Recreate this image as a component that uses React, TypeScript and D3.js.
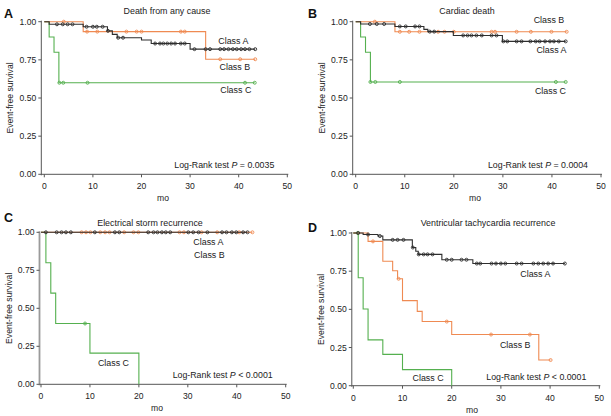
import React from "react";
import * as d3 from "d3";

// ---------- shared ticks ----------
const yTicks = [0, 0.25, 0.5, 0.75, 1];
const xTicks = [0, 10, 20, 30, 40, 50];

// ---------- Panel A: Death from any cause ----------
const aTitle = "Death from any cause";
const aPValue = "= 0.0035";
const aClassADrops: [number, number][] = [[1, 0.983], [8, 0.967], [13, 0.94], [14, 0.917], [15, 0.895], [20, 0.88], [22, 0.857], [30, 0.82]];
const aClassACensor = [2.6, 3.8, 4.8, 5.8, 8.7, 10, 10.8, 12, 13.1, 15.2, 16.2, 22.8, 23.8, 24.5, 25.3, 26.1, 26.9, 28.1, 28.9, 30.9, 33.2, 34.1, 36.2, 37, 37.9, 38.8, 39.6, 40.5, 41.3, 42.2, 43.4];
const aClassBDrops: [number, number][] = [[8, 0.935], [33.2, 0.754]];
const aClassBCensor = [4, 8.8, 10.9, 16.9, 19, 20, 28.1, 28.9, 36.2, 40.3, 43.4];
const aClassCDrops: [number, number][] = [[1, 0.9], [2, 0.8], [3, 0.6]];
const aClassCCensor = [3.1, 3.9, 8.9, 41.3, 43.3];

// ---------- Panel B: Cardiac death ----------
const bTitle = "Cardiac death";
const bPValue = "= 0.0004";
const bClassADrops: [number, number][] = [[1, 0.985], [8, 0.969], [13.9, 0.95], [14.7, 0.935], [19.9, 0.91], [29.9, 0.871]];
const bClassACensor = [2.9, 4.3, 5.8, 9, 10.2, 12.1, 13, 15.1, 16, 21.9, 22.8, 23.6, 24.6, 25.7, 27.7, 28.7, 30.1, 30.9, 32.8, 33.8, 35.6, 36.7, 37.5, 38.6, 39.6, 40.4, 41.4, 42.8];
const bClassBDrops: [number, number][] = [[8, 0.934]];
const bClassBCensor = [3.9, 9, 10.9, 13, 16.8, 18.1, 20, 27.7, 28.4, 32.8, 35.7, 39.9, 43];
const bClassCDrops: [number, number][] = [[1, 0.9], [2, 0.8], [3, 0.605]];
const bClassCCensor = [3, 4, 9, 40.8, 42.8];

// ---------- Panel C: Electrical storm recurrence ----------
const cTitle = "Electrical storm recurrence";
const cPValue = "< 0.0001";
const cClassADrops: [number, number][] = [];
const cClassACensor = [1, 3.2, 4.2, 5.1, 6.1, 11, 15.1, 16, 21.9, 23, 23.8, 24.7, 25.5, 26.4, 30.1, 31.1, 32.2, 34, 37, 37.9, 39, 39.9, 41.3, 42.2];
const cClassBDrops: [number, number][] = [];
const cClassBCensor = [8.3, 9.2, 10.1, 12.1, 13.1, 14, 17, 18.9, 19.9, 28.3, 29.2, 32.8, 36, 40.5, 43.2];
const cClassCDrops: [number, number][] = [[1, 0.8], [2, 0.6], [3, 0.4], [10, 0.205], [20, 0]];
const cClassCCensor = [9];

// ---------- Panel D: Ventricular tachycardia recurrence ----------
const dTitle = "Ventricular tachycardia recurrence";
const dPValue = "< 0.0001";
const dClassADrops: [number, number][] = [[2, 0.99], [5, 0.98], [6, 0.955], [12, 0.905], [12.7, 0.88], [13.2, 0.86], [18, 0.825], [24.3, 0.80]];
const dClassACensor = [1, 3, 5.4, 8, 9, 10.2, 12.1, 13.3, 14.3, 15.1, 16.1, 19, 20, 22, 23, 25.1, 25.8, 28.1, 29, 30, 30.9, 33.2, 34.2, 36.6, 37.6, 38.6, 39.6, 40.6, 43];
const dClassBDrops: [number, number][] = [[3, 0.945], [6, 0.815], [8, 0.753], [9, 0.70], [10, 0.557], [13, 0.487], [14, 0.42], [20, 0.335], [37.7, 0.168]];
const dClassBCensor = [4, 9.2, 19, 28, 35.9, 40.1];
const dClassCDrops: [number, number][] = [[1, 0.707], [2, 0.502], [3, 0.3], [6, 0.205], [10, 0.105], [20, 0]];
const dClassCCensor = [0.9];

const classNames = ["Class A", "Class B", "Class C"];
const COLORS = ["#2e2e2e", "#ef8a52", "#55b04f"];
const FONT = "'Liberation Sans', Arial, sans-serif";

type Series = { drops: [number, number][]; censor: number[] };

function survAt(drops: [number, number][], t: number) {
  let v = 1;
  for (const [dt, dv] of drops) if (dt <= t) v = dv;
  return v;
}

interface PanelProps {
  letter: string;
  title: string;
  pValue: string;
  series: Series[];
  box: { x0: number; x1: number; yT: number; yB: number; axisOff: number };
  labels: [number, number][];
  letterPos: [number, number];
  titlePos: [number, number];
  moX: number;
  yAxisColor?: string;
  yAxisWidth?: number;
}

function Panel(p: PanelProps) {
  const x = d3.scaleLinear().domain([0, 50]).range([p.box.x0, p.box.x1]);
  const y = d3.scaleLinear().domain([0, 1]).range([p.box.yB, p.box.yT]);
  const line = d3
    .line<[number, number]>()
    .x((d) => x(d[0]))
    .y((d) => y(d[1]))
    .curve(d3.curveStepAfter);
  const axX = p.box.x0 - p.box.axisOff;
  const midY = (p.box.yT + p.box.yB) / 2;
  const order = [2, 1, 0];
  return (
    <g fontFamily={FONT} fill="#222">
      <text x={p.letterPos[0]} y={p.letterPos[1]} fontSize={12.5} fontWeight="bold" fill="#111">
        {p.letter}
      </text>
      <text x={p.titlePos[0]} y={p.titlePos[1]} fontSize={8.9} textAnchor="middle">
        {p.title}
      </text>
      {/* axes */}
      <line x1={axX} x2={axX} y1={y(1) - 1} y2={y(0) + 1} stroke={p.yAxisColor || "#555"} strokeWidth={p.yAxisWidth || 1} />
      <line x1={axX} x2={x(50) + 1} y1={y(0)} y2={y(0)} stroke="#555" strokeWidth={1} />
      {yTicks.map((t) => (
        <g key={"y" + t}>
          <line x1={axX - 3} x2={axX} y1={y(t)} y2={y(t)} stroke="#555" />
          <text x={axX - 5} y={y(t) + 3} fontSize={8.6} textAnchor="end">
            {d3.format(".2f")(t)}
          </text>
        </g>
      ))}
      {xTicks.map((t) => (
        <g key={"x" + t}>
          <line x1={x(t)} x2={x(t)} y1={y(0)} y2={y(0) + 3} stroke="#555" />
          <text x={x(t)} y={y(0) + 15} fontSize={8.6} textAnchor="middle">
            {t}
          </text>
        </g>
      ))}
      <text
        transform={`translate(${axX - 28},${midY}) rotate(-90)`}
        fontSize={8.6}
        textAnchor="middle"
      >
        Event-free survival
      </text>
      <text x={p.moX} y={y(0) + 27} fontSize={8.6} textAnchor="middle">
        mo
      </text>
      {/* curves */}
      {order.map((i) => {
        const s = p.series[i];
        const last = s.drops.length ? s.drops[s.drops.length - 1] : [0, 1];
        const end = Math.max(last[0], ...s.censor);
        const pts: [number, number][] = [[0, 1], ...s.drops, [end, survAt(s.drops, end)]];
        return (
          <g key={i}>
            <path d={line(pts) || ""} fill="none" stroke={COLORS[i]} strokeWidth={1.1} />
            {s.censor.map((c, j) => (
              <circle key={j} cx={x(c)} cy={y(survAt(s.drops, c))} r={1.5} fill="none" stroke={COLORS[i]} strokeWidth={0.9} />
            ))}
          </g>
        );
      })}
      {p.labels.map((l, i) => (
        <text key={i} x={x(l[0])} y={y(l[1])} fontSize={8.9} textAnchor="middle">
          {classNames[i]}
        </text>
      ))}
      <text x={x(50) - 13} y={y(0) - 6} fontSize={8.8} textAnchor="end">
        Log-Rank test <tspan fontStyle="italic">P</tspan> {p.pValue}
      </text>
    </g>
  );
}

export default function App() {
  return (
    <svg
      width={611}
      height={416}
      style={{ position: "absolute", left: 0, top: 0, background: "#fff" }}
    >
      <rect width={611} height={416} fill="#fff" />
      <Panel
        letter="A"
        title={aTitle}
        pValue={aPValue}
        series={[
          { drops: aClassADrops, censor: aClassACensor },
          { drops: aClassBDrops, censor: aClassBCensor },
          { drops: aClassCDrops, censor: aClassCCensor },
        ]}
        box={{ x0: 44.3, x1: 287.3, yT: 21.7, yB: 174.3, axisOff: 3 }}
        labels={[[38.9, 0.856], [39.2, 0.681], [39.4, 0.531]]}
        letterPos={[4, 18]}
        titlePos={[167, 14]}
        moX={163}
      />
      <Panel
        letter="B"
        title={bTitle}
        pValue={bPValue}
        series={[
          { drops: bClassADrops, censor: bClassACensor },
          { drops: bClassBDrops, censor: bClassBCensor },
          { drops: bClassCDrops, censor: bClassCCensor },
        ]}
        box={{ x0: 355.7, x1: 601, yT: 21.7, yB: 174.3, axisOff: 3 }}
        labels={[[39.9, 0.797], [39.4, 0.99], [39.7, 0.524]]}
        letterPos={[308, 18]}
        titlePos={[467, 14]}
        moX={475}
      />
      <Panel
        letter="C"
        title={cTitle}
        pValue={cPValue}
        series={[
          { drops: cClassADrops, censor: cClassACensor },
          { drops: cClassBDrops, censor: cClassBCensor },
          { drops: cClassCDrops, censor: cClassCCensor },
        ]}
        box={{ x0: 41, x1: 285.7, yT: 232.3, yB: 384.3, axisOff: 1.5 }}
        labels={[[34.2, 0.916], [34.4, 0.833], [14.8, 0.122]]}
        letterPos={[4, 222]}
        titlePos={[150, 226]}
        moX={157}
        yAxisColor="#9a9a9a"
        yAxisWidth={1.8}
      />
      <Panel
        letter="D"
        title={dTitle}
        pValue={dPValue}
        series={[
          { drops: dClassADrops, censor: dClassACensor },
          { drops: dClassBDrops, censor: dClassBCensor },
          { drops: dClassCDrops, censor: dClassCCensor },
        ]}
        box={{ x0: 353.3, x1: 599.3, yT: 233, yB: 385.7, axisOff: 1.5 }}
        labels={[[37, 0.714], [32.9, 0.249], [15.2, 0.031]]}
        letterPos={[308, 232]}
        titlePos={[488, 226]}
        moX={472}
      />
    </svg>
  );
}
